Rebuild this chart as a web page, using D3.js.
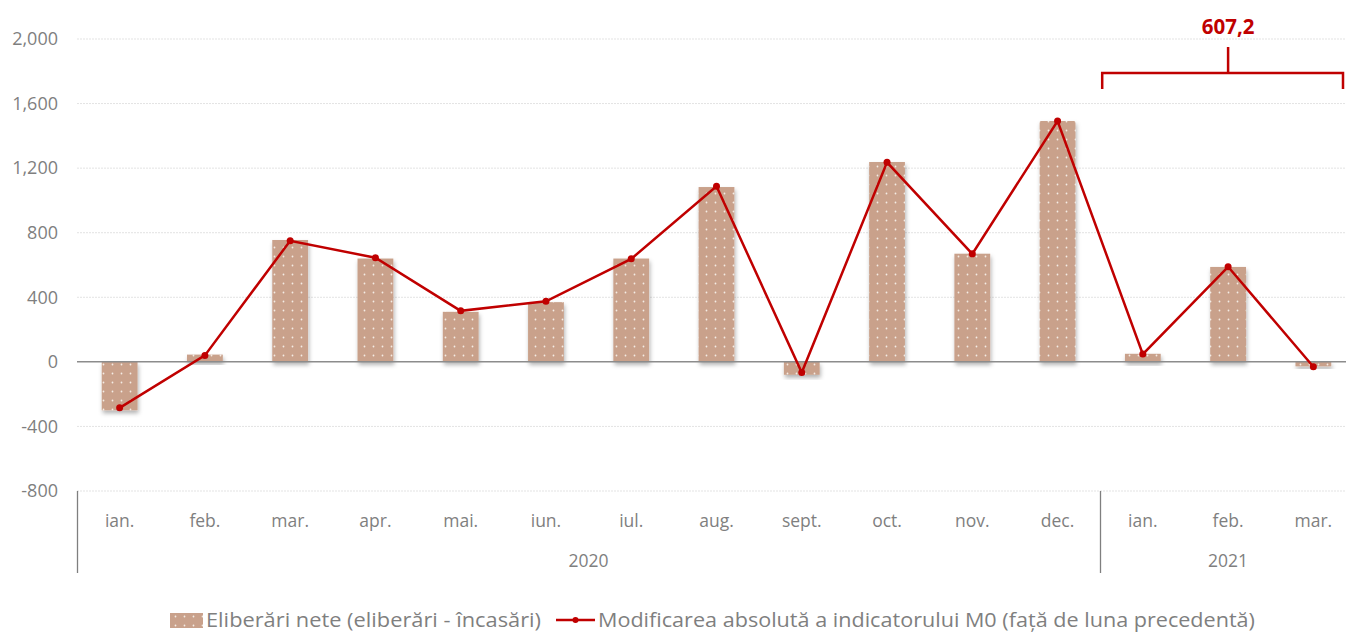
<!DOCTYPE html>
<html><head><meta charset="utf-8">
<script src="https://cdn.jsdelivr.net/npm/d3@7"></script>
<style>body{margin:0;background:#fff}svg{display:block}</style>
</head><body>
<svg id="c" width="1348" height="632"></svg>
<script>
const months = ["ian.","feb.","mar.","apr.","mai.","iun.","iul.","aug.","sept.","oct.","nov.","dec.","ian.","feb.","mar."];
const years = [{label:"2020", from:0, to:11},{label:"2021", from:12, to:14}];
const netReleases = [-300, 45, 755, 640, 310, 370, 640, 1083, -80, 1238, 670, 1492, 50, 588, -28];
const m0Change = [-285, 40, 750, 645, 316, 375, 638, 1088, -66, 1236, 669, 1492, 48, 589, -30];
const yTicks = [-800,-400,0,400,800,1200,1600,2000];
const bracketLabel = "607,2";
const legendBar = "Eliberări nete (eliberări - încasări)";
const legendLine = "Modificarea absolută a indicatorului M0 (față de luna precedentă)";

const svg = d3.select("#c");
const font = "Open Sans, Liberation Sans, sans-serif";
const x = d3.scaleBand().domain(d3.range(months.length)).range([77, 1356]).paddingInner(0.58).paddingOuter(0.29);
const xs = d3.scaleBand().domain(d3.range(months.length)).range([77, 1356]);
const y = d3.scaleLinear().domain([-800, 2000]).range([491, 39]);

const defs = svg.append("defs");
const pat = defs.append("pattern").attr("id","dots").attr("patternUnits","userSpaceOnUse").attr("width",9).attr("height",9);
pat.append("rect").attr("width",9).attr("height",9).attr("fill","#c9a18b");
pat.append("circle").attr("cx",4.5).attr("cy",4.5).attr("r",0.9).attr("fill","#f4ece4");
const flt = defs.append("filter").attr("id","sh").attr("x","-20%").attr("y","-20%").attr("width","140%").attr("height","160%");
flt.append("feDropShadow").attr("dx",1).attr("dy",3).attr("stdDeviation",2).attr("flood-color","#000").attr("flood-opacity",0.3);

// gridlines
svg.append("g").selectAll("line").data(yTicks.filter(d=>d!==0)).join("line")
  .attr("x1",77).attr("x2",1346).attr("y1",d=>y(d)).attr("y2",d=>y(d))
  .attr("stroke","#e3e3e3").attr("stroke-width",1).attr("stroke-dasharray","2,1");

// y axis labels
const fmt = d3.format(",");
const yAxis = d3.axisLeft(y).tickValues(yTicks).tickSize(0).tickPadding(0).tickFormat(d=>fmt(d).replace("\u2212","-"));
const ya = svg.append("g").attr("transform","translate(58,0)").call(yAxis);
ya.select(".domain").remove();
ya.selectAll("text").attr("font-family",font).attr("font-size",18).attr("fill","#7f7f7f");

// bars
svg.append("g").selectAll("rect").data(netReleases).join("rect")
  .attr("x",(d,i)=>x(i)).attr("width",x.bandwidth())
  .attr("y",d=>y(Math.max(0,d))).attr("height",d=>Math.abs(y(d)-y(0)))
  .attr("fill","url(#dots)").attr("filter","url(#sh)");

// zero line
svg.append("line").attr("x1",77).attr("x2",1346).attr("y1",y(0)).attr("y2",y(0)).attr("stroke","#8c8c8c").attr("stroke-width",1.5);

// line
const red = "#c00000";
svg.append("path").datum(m0Change)
  .attr("d", d3.line().x((d,i)=>xs(i)+xs.bandwidth()/2).y(d=>y(d)))
  .attr("fill","none").attr("stroke",red).attr("stroke-width",2.5);
svg.append("g").selectAll("circle").data(m0Change).join("circle")
  .attr("cx",(d,i)=>xs(i)+xs.bandwidth()/2).attr("cy",d=>y(d)).attr("r",3.5).attr("fill",red);

// category axis
const ca = svg.append("g");
ca.selectAll("text.m").data(months).join("text").attr("class","m")
  .attr("x",(d,i)=>xs(i)+xs.bandwidth()/2).attr("y",527).attr("text-anchor","middle")
  .attr("font-family",font).attr("font-size",17.5).attr("fill","#7f7f7f").text(d=>d);
ca.selectAll("text.y").data(years).join("text").attr("class","y")
  .attr("x",d=>(xs(d.from)+xs(d.to)+xs.bandwidth())/2).attr("y",567).attr("text-anchor","middle")
  .attr("font-family",font).attr("font-size",17.5).attr("fill","#7f7f7f").text(d=>d.label);
ca.selectAll("line").data([0,12]).join("line")
  .attr("x1",d=>Math.round(xs(d))+0.5).attr("x2",d=>Math.round(xs(d))+0.5).attr("y1",491).attr("y2",573)
  .attr("stroke","#7f7f7f").attr("stroke-width",1.3);

// bracket
const bx1 = xs(12)+2, bx2 = 1343, bc = xs(13)+xs.bandwidth()/2;
svg.append("path").attr("d",`M${bx1},89V73H${bx2}V89M${bc},73V47`).attr("fill","none").attr("stroke",red).attr("stroke-width",2.5);
svg.append("text").attr("x",bc).attr("y",34).attr("text-anchor","middle").attr("font-family",font)
  .attr("font-weight","bold").attr("font-size",20.5).attr("fill",red).text(bracketLabel);

// legend
const lg = svg.append("g");
lg.append("rect").attr("x",170).attr("y",613).attr("width",33).attr("height",15).attr("fill","url(#dots)");
lg.append("text").attr("x",206).attr("y",627).attr("font-family",font).attr("font-size",20).attr("fill","#7f7f7f")
  .attr("textLength",335).attr("lengthAdjust","spacingAndGlyphs").text(legendBar);
lg.append("line").attr("x1",556).attr("x2",595).attr("y1",620).attr("y2",620).attr("stroke",red).attr("stroke-width",2.5);
lg.append("circle").attr("cx",575.5).attr("cy",620).attr("r",3).attr("fill",red);
lg.append("text").attr("x",598).attr("y",627).attr("font-family",font).attr("font-size",20).attr("fill","#7f7f7f")
  .attr("textLength",657).attr("lengthAdjust","spacingAndGlyphs").text(legendLine);
</script>
</body></html>
